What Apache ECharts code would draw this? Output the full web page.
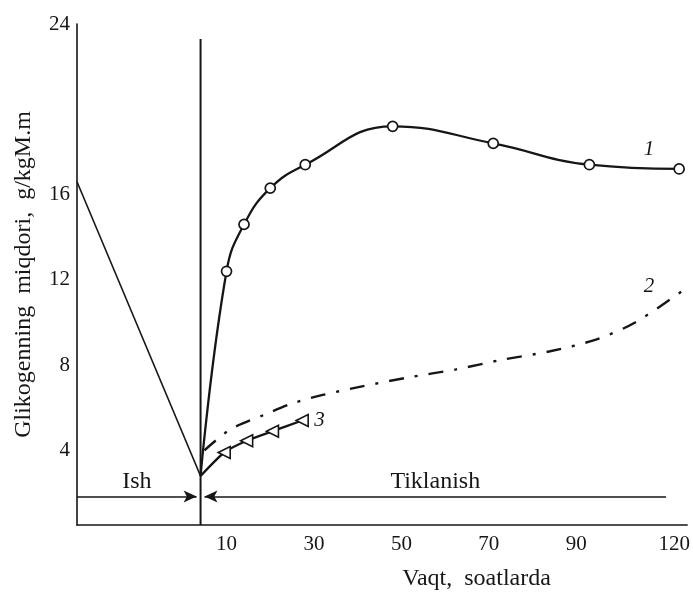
<!DOCTYPE html>
<html>
<head>
<meta charset="utf-8">
<script src="https://cdn.jsdelivr.net/npm/echarts@6/dist/echarts.min.js"></script>
<style>
  html, body { margin: 0; padding: 0; background: #fff; }
  #chart { width: 693px; height: 596px; }
</style>
</head>
<body>
<div id="chart"></div>
<script>
// ---- data (hours after work, glycogen g/kg) ----
const TICK_HOURS = [10, 30, 50, 70, 90, 120];
const Y_TICKS = [4, 8, 12, 16, 24];

// hand-drawn time axis: compressed at both ends (hours -> axis units)
const HOUR_KNOTS = [0, 10, 90, 120];
const AXIS_KNOTS = [4.06, 10, 90, 112.4];
const AXIS_MIN = -24.2;   // start of the work ("Ish") phase
const AXIS_MAX = 115.35;

const WORK_START_VALUE = 16.6;
const WORK_END_VALUE = 2.8;

const HOURS_1 = [0, 10, 14, 20, 28, 48, 71, 94, 121.5];
const GLYCOGEN_1 = [2.8, 12.4, 14.6, 16.3, 17.4, 19.2, 18.4, 17.4, 17.2];

const HOURS_2 = [1.5, 11, 19, 25, 32, 41, 51, 62.5, 73, 84, 96, 108, 123.6];
const GLYCOGEN_2 = [4.0, 5.0, 5.7, 6.2, 6.6, 7.0, 7.4, 7.8, 8.25, 8.65, 9.2, 10.0, 11.6];

const HOURS_3 = [0, 9.1, 14.6, 20.5, 27.3];
const GLYCOGEN_3 = [2.8, 3.9, 4.45, 4.9, 5.4];

const DIVIDER_TOP = 23.3;
const PHASE_LEVEL = 1.84;
const RECOVERY_END_HOURS = 117.5;

function toAxis(h) {
  let i = 0;
  while (i < HOUR_KNOTS.length - 2 && h > HOUR_KNOTS[i + 1]) i++;
  const h0 = HOUR_KNOTS[i], h1 = HOUR_KNOTS[i + 1];
  const a0 = AXIS_KNOTS[i], a1 = AXIS_KNOTS[i + 1];
  return a0 + (h - h0) * (a1 - a0) / (h1 - h0);
}
const pairs = (xs, ys) => xs.map((h, i) => [toAxis(h), ys[i]]);
const TICK_POS = TICK_HOURS.map(toAxis);

const INK = '#161616';
const SERIF = '"Liberation Serif", "DejaVu Serif", serif';

const chart = echarts.init(document.getElementById('chart'), null, { renderer: 'canvas' });

const option = {
  animation: false,
  backgroundColor: '#ffffff',
  grid: { left: 77, right: 5, top: 24, bottom: 68 },
  xAxis: {
    type: 'value',
    min: AXIS_MIN,
    max: AXIS_MAX,
    splitLine: { show: false },
    axisTick: { show: false },
    axisLine: { show: true, onZero: false, lineStyle: { color: INK, width: 1.6 } },
    axisLabel: {
      customValues: TICK_POS,
      formatter: v => {
        const i = TICK_POS.findIndex(t => Math.abs(t - v) < 1e-6);
        return i >= 0 ? String(TICK_HOURS[i]) : '';
      },
      color: INK, fontFamily: SERIF, fontSize: 21, margin: 9
    },
    name: 'Vaqt,  soatlarda',
    nameLocation: 'middle',
    nameGap: 42,
    nameTextStyle: { color: INK, fontFamily: SERIF, fontSize: 24, padding: [0, 0, 0, 189] }
  },
  yAxis: {
    type: 'value',
    min: 0.5,
    max: 24,
    splitLine: { show: false },
    axisTick: { show: false },
    axisLine: { show: true, onZero: false, lineStyle: { color: INK, width: 1.6 } },
    axisLabel: {
      customValues: Y_TICKS,
      color: INK, fontFamily: SERIF, fontSize: 21, margin: 7
    },
    name: 'Glikogenning  miqdori,  g/kgM.m',
    nameLocation: 'middle',
    nameRotate: 90,
    nameGap: 41,
    nameTextStyle: { color: INK, fontFamily: SERIF, fontSize: 24 }
  },
  series: [
    {
      name: 'Ish',
      type: 'line',
      symbol: 'none',
      lineStyle: { color: INK, width: 1.6 },
      data: [[AXIS_MIN, WORK_START_VALUE], [toAxis(0), WORK_END_VALUE]]
    },
    {
      name: 'divider',
      type: 'line',
      symbol: 'none',
      lineStyle: { color: INK, width: 2 },
      data: [[toAxis(0), 0.5], [toAxis(0), DIVIDER_TOP]],
      markLine: {
        silent: true,
        symbolSize: [9, 13],
        lineStyle: { color: INK, width: 1.6, type: 'solid' },
        label: {
          show: true, position: 'insideMiddleTop', distance: 3,
          color: INK, fontFamily: SERIF, fontSize: 24
        },
        data: [
          [
            { coord: [AXIS_MIN, PHASE_LEVEL], symbol: 'none', name: 'Ish' },
            { coord: [toAxis(0) - 0.9, PHASE_LEVEL], symbol: 'arrow' }
          ],
          [
            { coord: [toAxis(0) + 0.9, PHASE_LEVEL], symbol: 'arrow', name: 'Tiklanish' },
            { coord: [toAxis(RECOVERY_END_HOURS), PHASE_LEVEL], symbol: 'none' }
          ]
        ]
      }
    },
    {
      name: '1',
      type: 'line',
      smooth: 0.45,
      symbol: 'circle',
      symbolSize: 10,
      showAllSymbol: true,
      lineStyle: { color: INK, width: 2.3 },
      itemStyle: { color: '#ffffff', borderColor: INK, borderWidth: 1.7 },
      data: pairs(HOURS_1, GLYCOGEN_1).map((p, i) => i === 0 ? { value: p, symbol: 'none' } : p),
      z: 3,
      markPoint: {
        symbol: 'circle', symbolSize: 1,
        itemStyle: { color: 'rgba(0,0,0,0)' },
        label: { show: true, position: 'inside', color: INK, fontFamily: SERIF, fontSize: 21, fontStyle: 'italic' },
        data: [{ coord: [toAxis(112.3), 18.1], value: '1', label: { formatter: '1' } }]
      }
    },
    {
      name: '2',
      type: 'line',
      smooth: 0.3,
      symbol: 'none',
      lineStyle: { color: INK, width: 2.4, type: [15, 11, 3, 11] },
      data: pairs(HOURS_2, GLYCOGEN_2),
      markPoint: {
        symbol: 'circle', symbolSize: 1,
        itemStyle: { color: 'rgba(0,0,0,0)' },
        label: { show: true, position: 'inside', color: INK, fontFamily: SERIF, fontSize: 21, fontStyle: 'italic' },
        data: [{ coord: [toAxis(112.3), 11.7], value: '2', label: { formatter: '2' } }]
      }
    },
    {
      name: '3',
      type: 'line',
      smooth: 0.2,
      symbol: 'triangle',
      symbolRotate: 90,
      symbolSize: 12,
      showAllSymbol: true,
      lineStyle: { color: INK, width: 2.3 },
      itemStyle: { color: '#ffffff', borderColor: INK, borderWidth: 1.6 },
      data: pairs(HOURS_3, GLYCOGEN_3).map((p, i) => i === 0 ? { value: p, symbol: 'none' } : p),
      z: 3,
      endLabel: {
        show: true, formatter: '3', distance: 12,
        color: INK, fontFamily: SERIF, fontSize: 21, fontStyle: 'italic'
      }
    }
  ]
};

chart.setOption(option);
</script>
</body>
</html>
